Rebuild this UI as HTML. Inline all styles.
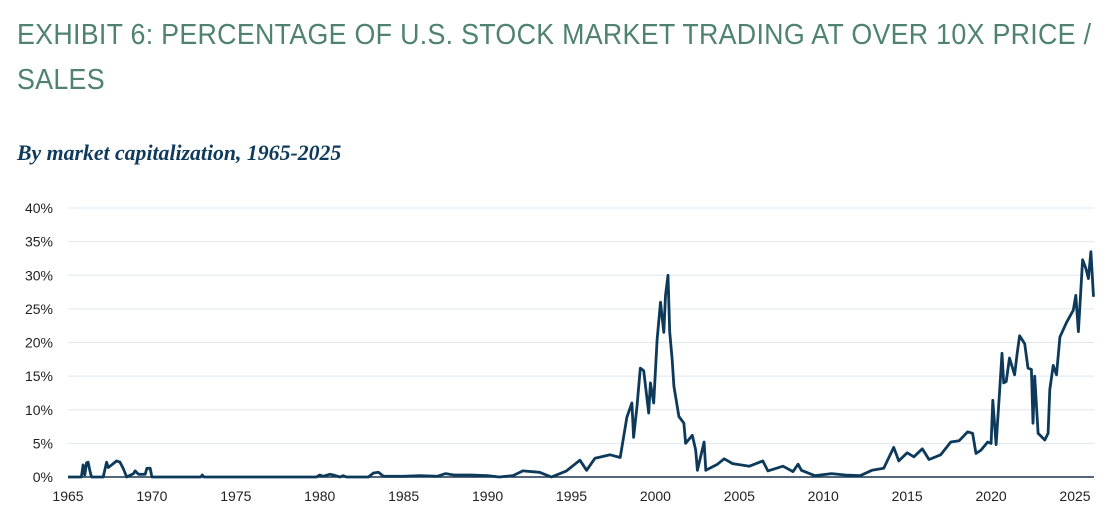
<!DOCTYPE html>
<html><head><meta charset="utf-8"><style>
body{margin:0;background:#fff;width:1112px;height:529px;overflow:hidden;font-family:"Liberation Sans",sans-serif}
#title{position:absolute;left:17px;top:13px;font-size:29px;line-height:45px;color:#4f8270;letter-spacing:0.3px;font-weight:normal;transform:scaleX(0.925);transform-origin:left top;width:1200px}
#sub{position:absolute;left:17px;top:140px;font-family:"Liberation Serif",serif;font-style:italic;font-weight:bold;font-size:22px;color:#0f3a5c;transform:scaleX(0.99);transform-origin:left top}
svg{position:absolute;left:0;top:0}
</style></head><body>
<div id="title">EXHIBIT 6: PERCENTAGE OF U.S. STOCK MARKET TRADING AT OVER 10X PRICE /<br>SALES</div>
<div id="sub">By market capitalization, 1965-2025</div>
<svg id="chart" width="1112" height="529"></svg>
<script>
const yTicks=[0,5,10,15,20,25,30,35,40];
const xTicks=[1965,1970,1975,1980,1985,1990,1995,2000,2005,2010,2015,2020,2025];
const years=[1965,1965.8,1965.9,1966.0,1966.1,1966.2,1966.3,1966.4,1967.1,1967.3,1967.4,1967.6,1967.9,1968.1,1968.3,1968.5,1968.9,1969.0,1969.2,1969.6,1969.7,1969.9,1970.0,1972.9,1973.0,1973.1,1979.8,1980.0,1980.2,1980.6,1980.8,1981.2,1981.4,1981.6,1982.9,1983.2,1983.5,1983.8,1985,1986,1987,1987.5,1988,1989,1990,1990.7,1991.5,1992.1,1993.1,1993.8,1994.7,1995.5,1995.9,1996.4,1997.3,1997.9,1998.3,1998.6,1998.7,1998.9,1999.1,1999.3,1999.6,1999.7,1999.9,2000.1,2000.3,2000.5,2000.6,2000.75,2000.85,2001.0,2001.1,2001.4,2001.7,2001.8,2002.2,2002.4,2002.5,2002.9,2003.0,2003.7,2004.1,2004.6,2005.6,2006.4,2006.7,2007.6,2008.2,2008.5,2008.7,2009.5,2010.5,2011.3,2012.2,2012.9,2013.6,2014.2,2014.5,2015.0,2015.4,2015.9,2016.3,2017.0,2017.6,2018.1,2018.6,2018.9,2019.1,2019.4,2019.8,2020.0,2020.1,2020.3,2020.5,2020.65,2020.75,2020.9,2021.1,2021.4,2021.55,2021.7,2022.0,2022.2,2022.4,2022.5,2022.6,2022.8,2023.2,2023.4,2023.5,2023.7,2023.9,2024.1,2024.5,2024.9,2025.05,2025.2,2025.45,2025.65,2025.8,2025.95,2026.1];
const values=[0,0,1.8,0.3,2.1,2.2,1.0,0,0,2.2,1.4,1.8,2.4,2.2,1.2,0,0.5,0.9,0.4,0.4,1.3,1.3,0,0,0.3,0,0,0.3,0.1,0.4,0.3,0,0.2,0,0,0.6,0.7,0.1,0.1,0.2,0.1,0.5,0.3,0.3,0.2,0,0.2,0.9,0.7,0,0.9,2.5,1.0,2.8,3.3,2.9,8.9,11,5.9,10.5,16.2,15.8,9.5,14,11,20.4,26,21.5,27,30,21.6,17.4,13.5,9,8,5,6.2,4,1,5.2,1,1.9,2.7,2,1.6,2.4,0.9,1.6,0.8,1.9,1.0,0.2,0.5,0.3,0.2,1.0,1.3,4.4,2.4,3.6,3.0,4.2,2.6,3.3,5.2,5.4,6.7,6.5,3.5,4.0,5.2,5.0,11.4,4.8,12.5,18.4,14,14.2,17.7,15.2,18.3,21,19.8,16.2,16,8,15,6.5,5.5,6.5,13,16.6,15.2,20.8,23,24.8,27,21.6,32.3,31,29.5,33.5,26.8];
const NS="http://www.w3.org/2000/svg";
const svg=document.getElementById('chart');
const x0=68,x1=1075,y0=477,y40=208;
function xs(v){return x0+(v-1965)*(x1-x0)/60;}
function ys(v){return y0-v*(y0-y40)/40;}
function mk(t,a){const e=document.createElementNS(NS,t);for(const k in a)e.setAttribute(k,a[k]);svg.appendChild(e);return e;}
yTicks.forEach(t=>{
 if(t>0){const g=mk('line',{x1:x0,x2:1094,y1:ys(t),y2:ys(t),stroke:'#dde8ef','stroke-width':1});
 
 }
 const l=mk('text',{x:53,y:ys(t)+5,'text-anchor':'end','font-size':14,fill:'#222','font-family':'Liberation Sans, sans-serif'});
 l.textContent=t+'%';
 
 
});
xTicks.forEach(t=>{
 const l=mk('text',{x:xs(t),y:y0+24,'text-anchor':'middle','font-size':14,fill:'#222','font-family':'Liberation Sans, sans-serif'});
 l.textContent=t;
 
 
});
const ax=mk('line',{x1:x0,x2:1094,y1:y0,y2:y0,stroke:'#1a3550','stroke-width':1.5});


let d='';years.forEach((yr,i)=>{d+=(i?'L':'M')+xs(yr).toFixed(1)+','+ys(values[i]).toFixed(1);});
const p=mk('path',{d:d,fill:'none',stroke:'#0d3a5a','stroke-width':2.8,'stroke-linejoin':'round'});


</script>
</body></html>
